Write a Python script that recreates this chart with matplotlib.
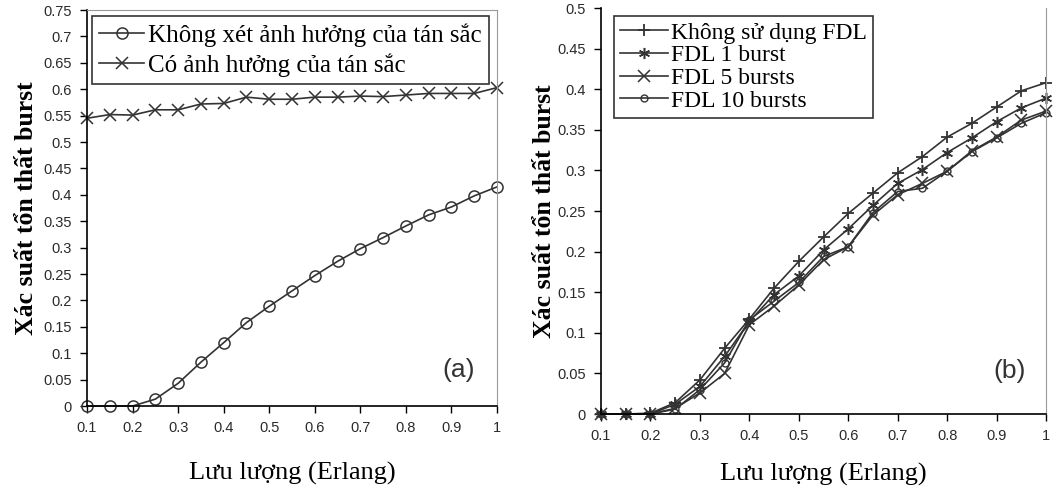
import matplotlib
matplotlib.use("Agg")
import matplotlib.pyplot as plt
from matplotlib.ticker import FuncFormatter

### data
traffic = [0.1, 0.15, 0.2, 0.25, 0.3, 0.35, 0.4, 0.45, 0.5, 0.55,
           0.6, 0.65, 0.7, 0.75, 0.8, 0.85, 0.9, 0.95, 1.0]

# panel (a)
no_dispersion = [0, 0, 0, 0.013, 0.043, 0.083, 0.12, 0.158, 0.189, 0.218,
                 0.247, 0.274, 0.298, 0.319, 0.341, 0.362, 0.377, 0.398, 0.415]
with_dispersion = [0.545, 0.552, 0.551, 0.561, 0.561, 0.572, 0.573, 0.585, 0.581, 0.581,
                   0.585, 0.585, 0.587, 0.586, 0.589, 0.592, 0.592, 0.592, 0.603]
labels_a = ["Không xét ảnh hưởng của tán sắc", "Có ảnh hưởng của tán sắc"]

# panel (b)
no_fdl = [0, 0, 0.001, 0.014, 0.042, 0.081, 0.117, 0.155, 0.188, 0.218,
          0.247, 0.272, 0.297, 0.317, 0.341, 0.358, 0.378, 0.398, 0.408]
fdl_1 = [0, 0, 0, 0.012, 0.034, 0.071, 0.114, 0.147, 0.170, 0.202,
         0.228, 0.257, 0.284, 0.301, 0.322, 0.340, 0.360, 0.377, 0.389]
fdl_5 = [0, 0, 0, 0.007, 0.026, 0.050, 0.110, 0.133, 0.159, 0.190,
         0.206, 0.245, 0.270, 0.284, 0.299, 0.324, 0.341, 0.362, 0.373]
fdl_10 = [0, 0, 0, 0.006, 0.030, 0.063, 0.116, 0.139, 0.162, 0.194,
          0.206, 0.248, 0.274, 0.278, 0.299, 0.323, 0.340, 0.358, 0.371]
labels_b = ["Không sử dụng FDL", "FDL 1 burst", "FDL 5 bursts", "FDL 10 bursts"]

xlabel = "Lưu lượng (Erlang)"
ylabel = "Xác suất tổn thất burst"

serif = ["Liberation Serif", "DejaVu Serif"]
sans = ["Liberation Sans", "DejaVu Sans"]
line_col = "#333333"

def fmt(v, pos):
    return "%g" % round(v, 3)

def style_axes(ax, ymax, top_spine, ylabelpad, xlabelpad):
    ax.set_xlim(0.1, 1.0)
    ax.set_ylim(0, ymax)
    ax.set_xticks([0.1, 0.2, 0.3, 0.4, 0.5, 0.6, 0.7, 0.8, 0.9, 1.0])
    ax.set_yticks([i * 0.05 for i in range(int(round(ymax / 0.05)) + 1)])
    ax.xaxis.set_major_formatter(FuncFormatter(fmt))
    ax.yaxis.set_major_formatter(FuncFormatter(fmt))
    ax.tick_params(direction="out", length=5, width=1, labelsize=10.5,
                   colors="black", labelcolor="#2a2a2a", pad=6)
    for lab in ax.get_xticklabels() + ax.get_yticklabels():
        lab.set_family(sans)
    for s in ["left", "bottom"]:
        ax.spines[s].set_color("black")
        ax.spines[s].set_linewidth(1.2)
    ax.spines["right"].set_color("#999999")
    ax.spines["top"].set_color("#999999")
    ax.spines["top"].set_visible(top_spine)
    ax.set_xlabel(xlabel, family=serif, fontsize=19, labelpad=xlabelpad)
    ax.set_ylabel(ylabel, family=serif, fontsize=18.5, fontweight="bold", labelpad=ylabelpad)

fig = plt.figure(figsize=(10.55, 4.91), dpi=100)

### panel (a)
ax1 = fig.add_axes([0.0825, 0.1731, 0.3886, 0.8065])
ax1.plot(traffic, no_dispersion, color=line_col, lw=1.2, marker="o", ms=8,
         mfc="none", mec=line_col, mew=1.1, label=labels_a[0], clip_on=False)
ax1.plot(traffic, with_dispersion, color=line_col, lw=1.2, marker="x", ms=8,
         mec=line_col, mew=1.1, label=labels_a[1], clip_on=False)
style_axes(ax1, 0.75, True, 4, 19)
leg1 = ax1.legend(loc="upper left", bbox_to_anchor=(0.012, 0.985), prop={"family": serif, "size": 18},
                  fancybox=False, edgecolor="black", handlelength=1.8, handletextpad=0.15,
                  borderpad=0.3, labelspacing=0.25, borderaxespad=0)
leg1.get_frame().set_linewidth(1.2)
ax1.text(0.945, 0.09, "(a)", transform=ax1.transAxes, ha="right", va="center",
         family=sans, fontsize=19, color="#333333")

### panel (b)
ax2 = fig.add_axes([0.5697, 0.1568, 0.4218, 0.8269])
ax2.plot(traffic, no_fdl, color=line_col, lw=1.2, marker="+", ms=9, mew=1.3,
         label=labels_b[0], clip_on=False)
ax2.plot(traffic, fdl_1, color=line_col, lw=1.2, marker=(6, 2, 0), ms=8, mew=1.1,
         label=labels_b[1], clip_on=False)
ax2.plot(traffic, fdl_5, color=line_col, lw=1.2, marker="x", ms=8, mew=1.1,
         label=labels_b[2], clip_on=False)
ax2.plot(traffic, fdl_10, color=line_col, lw=1.2, marker="o", ms=5, mfc="none",
         mec=line_col, mew=1.0, label=labels_b[3], clip_on=False)
style_axes(ax2, 0.5, False, 1, 14)
leg2 = ax2.legend(loc="upper left", bbox_to_anchor=(0.03, 0.98), prop={"family": serif, "size": 17},
                  fancybox=False, edgecolor="black", handlelength=2.0, handletextpad=0.15,
                  borderpad=0.25, labelspacing=0.05, borderaxespad=0)
leg2.get_frame().set_linewidth(1.2)
ax2.text(0.955, 0.105, "(b)", transform=ax2.transAxes, ha="right", va="center",
         family=sans, fontsize=19, color="#333333")

fig.savefig("out.png", dpi=100)
